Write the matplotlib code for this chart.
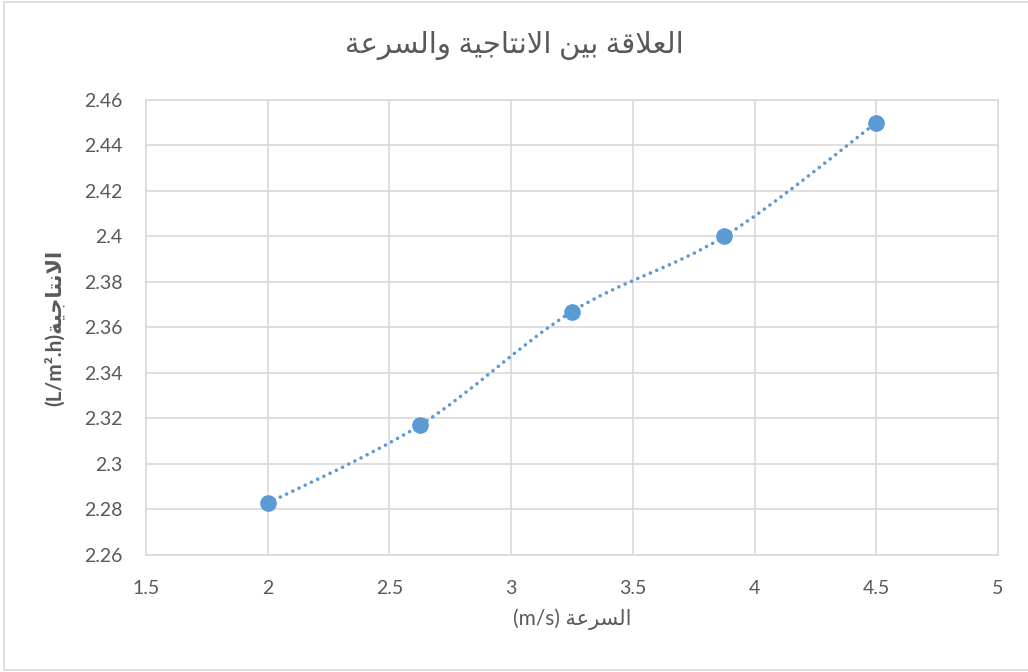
import matplotlib
matplotlib.use("Agg")
import matplotlib.pyplot as plt
from matplotlib.patches import Rectangle
from matplotlib.path import Path
from matplotlib.patches import PathPatch
import numpy as np

speed = [2.0, 2.625, 3.25, 3.875, 4.5]
productivity = [2.283, 2.317, 2.367, 2.400, 2.450]

x_ticks = [1.5, 2, 2.5, 3, 3.5, 4, 4.5, 5]
y_ticks = [2.26, 2.28, 2.30, 2.32, 2.34, 2.36, 2.38, 2.40, 2.42, 2.44, 2.46]
x_tick_labels = ["1.5", "2", "2.5", "3", "3.5", "4", "4.5", "5"]
y_tick_labels = ["2.26", "2.28", "2.3", "2.32", "2.34", "2.36", "2.38", "2.4", "2.42", "2.44", "2.46"]

title_text = "العلاقة بين الانتاجية والسرعة"
xlabel_ar = "السرعة"
xlabel_unit = "(m/s)"
ylabel_ar = "الانتاجية"
ylabel_unit = "(L/m².h)"

BLUE = "#5B9BD5"
GRID = "#D9D9D9"
TEXT = "#595959"

# matplotlib does no Arabic shaping, so pick presentation forms by hand
# (isolated, final, initial, medial); None initial = joins on the right only
FORMS = {
    "ا": ("\uFE8D", "\uFE8E", None, None),
    "ب": ("\uFE8F", "\uFE90", "\uFE91", "\uFE92"),
    "ة": ("\uFE93", "\uFE94", None, None),
    "ت": ("\uFE95", "\uFE96", "\uFE97", "\uFE98"),
    "ج": ("\uFE9D", "\uFE9E", "\uFE9F", "\uFEA0"),
    "ر": ("\uFEAD", "\uFEAE", None, None),
    "س": ("\uFEB1", "\uFEB2", "\uFEB3", "\uFEB4"),
    "ع": ("\uFEC9", "\uFECA", "\uFECB", "\uFECC"),
    "ق": ("\uFED5", "\uFED6", "\uFED7", "\uFED8"),
    "ل": ("\uFEDD", "\uFEDE", "\uFEDF", "\uFEE0"),
    "ن": ("\uFEE5", "\uFEE6", "\uFEE7", "\uFEE8"),
    "و": ("\uFEED", "\uFEEE", None, None),
    "ي": ("\uFEF1", "\uFEF2", "\uFEF3", "\uFEF4"),
}


def shape_ar(text: str) -> str:
    out = []
    i = 0
    while i < len(text):
        c = text[i]
        if c not in FORMS:
            out.append(c)
            i += 1
            continue
        prev = text[i - 1] if i > 0 else None
        joins_prev = prev in FORMS and FORMS[prev][2] is not None
        if c == "ل" and i + 1 < len(text) and text[i + 1] == "ا":
            out.append("\uFEFC" if joins_prev else "\uFEFB")
            i += 2
            continue
        nxt = text[i + 1] if i + 1 < len(text) else None
        iso, fin, ini, med = FORMS[c]
        joins_next = ini is not None and nxt in FORMS
        if joins_prev and joins_next:
            out.append(med)
        elif joins_prev:
            out.append(fin)
        elif joins_next:
            out.append(ini)
        else:
            out.append(iso)
        i += 1
    return "".join(reversed(out))


def smooth_path(xs, ys) -> Path:
    # cubic bezier through the points, roughly like Excel's smoothed line
    pts = np.column_stack([xs, ys])
    n = len(pts)
    verts = [pts[0]]
    codes = [Path.MOVETO]
    for i in range(n - 1):
        p_prev = pts[i - 1] if i > 0 else pts[i]
        p_next = pts[i + 2] if i + 2 < n else pts[i + 1]
        c1 = pts[i] + (pts[i + 1] - p_prev) / 6.0
        c2 = pts[i + 1] - (p_next - pts[i]) / 6.0
        if i == 0:
            c1 = pts[i]
        verts += [c1, c2, pts[i + 1]]
        codes += [Path.CURVE4] * 3
    return Path(verts, codes)


plt.rcParams["font.family"] = ["Lato", "DejaVu Sans"]

fig = plt.figure(figsize=(10.28, 6.72), dpi=100)
ax = fig.add_axes([146 / 1028, 1 - 555 / 672, (998 - 146) / 1028, (555 - 100) / 672])

line = PathPatch(
    smooth_path(speed, productivity),
    facecolor="none",
    edgecolor=BLUE,
    linewidth=2.6,
    linestyle=(0, (0.01, 1.9)),
    capstyle="round",
    zorder=3,
)
ax.add_patch(line)
ax.plot(speed, productivity, "o", color=BLUE, markersize=11, zorder=4)

ax.set_xlim(1.5, 5)
ax.set_ylim(2.26, 2.46)
ax.set_xticks(x_ticks)
ax.set_xticklabels(x_tick_labels)
ax.set_yticks(y_ticks)
ax.set_yticklabels(y_tick_labels)
ax.tick_params(axis="both", length=0, labelsize=14, labelcolor=TEXT)
ax.tick_params(axis="x", pad=18)
ax.tick_params(axis="y", pad=17)
ax.grid(True, color=GRID, linewidth=1.2)
ax.set_axisbelow(True)
for spine in ax.spines.values():
    spine.set_color(GRID)
    spine.set_linewidth(1.2)

ax.set_xlabel(xlabel_unit + " " + shape_ar(xlabel_ar), fontsize=15, color=TEXT, labelpad=8)
ax.set_ylabel(ylabel_unit + shape_ar(ylabel_ar), fontsize=15, color=TEXT,
              fontweight="bold", labelpad=14)
fig.text(0.5, 1 - 45 / 672, shape_ar(title_text), ha="center", va="center",
         fontsize=21, color=TEXT)

fig.patches.append(Rectangle((4 / 1028, 2 / 672), 1.1, 668 / 672, transform=fig.transFigure,
                             facecolor="none", edgecolor=GRID, linewidth=1.2))

fig.savefig("out.png", dpi=100)
